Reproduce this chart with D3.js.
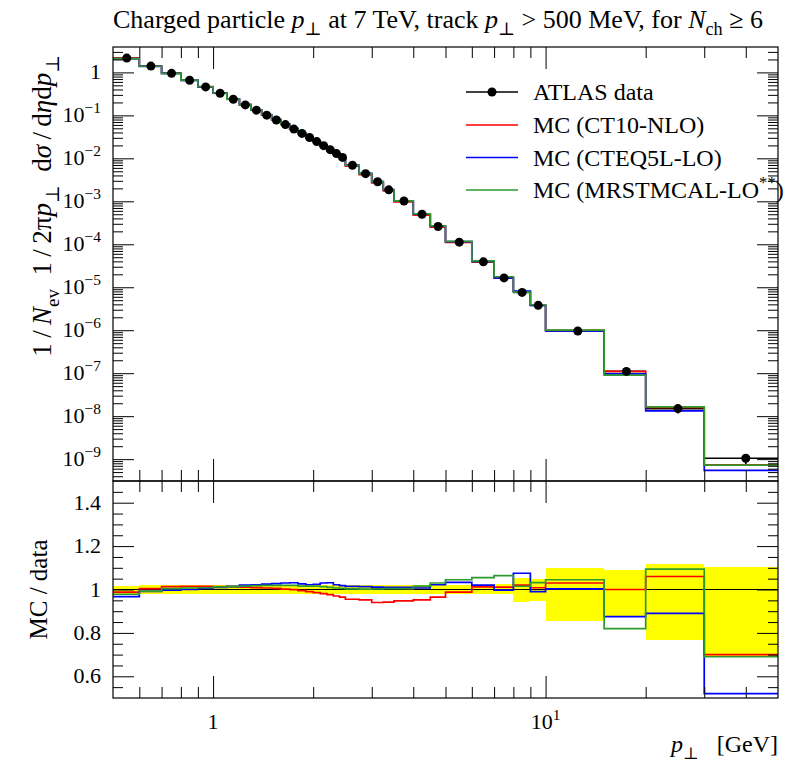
<!DOCTYPE html>
<html>
<head>
<meta charset="utf-8">
<script src="https://cdn.jsdelivr.net/npm/d3@7"></script>
<style>
  body { margin: 0; background: #fff; }
  text { font-family: "Liberation Serif", "DejaVu Serif", serif; fill: #000; white-space: pre; }
</style>
</head>
<body>
<svg id="chart" width="794" height="766"></svg>
<script>
// pT bin edges [GeV]
var edges = [0.5, 0.6, 0.7, 0.8, 0.9, 1.0, 1.1, 1.2, 1.3, 1.4, 1.5, 1.6, 1.7, 1.8, 1.9, 2.0,
  2.1, 2.2, 2.3, 2.4, 2.5, 2.75, 3.0, 3.25, 3.5, 4.0, 4.5, 5.0, 6.0, 7.0, 8.0, 9.0, 10.0,
  15.0, 20.0, 30.0, 50.0];

// ATLAS data, 1/Nev 1/2pi pT d2N/deta dpT
var atlasData = [2.15, 1.40, 0.95, 0.655, 0.46, 0.328, 0.237, 0.175, 0.132, 0.101, 0.078,
  0.061, 0.048, 0.038, 0.0305, 0.0245, 0.0197, 0.0159, 0.0129, 0.0105, 0.0069, 0.0044,
  0.00285, 0.00185, 0.00102, 5.0e-4, 2.6e-4, 1.12e-4, 3.9e-5, 1.65e-5, 7.6e-6, 3.8e-6,
  9.6e-7, 1.1e-7, 1.5e-8, 1.05e-9];

// relative uncertainties (up / down)
var errUp = [0.018, 0.02, 0.02, 0.02, 0.02, 0.02, 0.02, 0.02, 0.02, 0.02, 0.02, 0.02, 0.02,
  0.02, 0.02, 0.02, 0.02, 0.02, 0.02, 0.02, 0.02, 0.02, 0.02, 0.02, 0.02, 0.02, 0.02, 0.02,
  0.02, 0.025, 0.054, 0.049, 0.098, 0.092, 0.118, 0.104];
var errDn = [0.022, 0.02, 0.02, 0.02, 0.02, 0.02, 0.02, 0.02, 0.02, 0.02, 0.02, 0.02, 0.02,
  0.02, 0.02, 0.02, 0.02, 0.02, 0.02, 0.02, 0.02, 0.02, 0.02, 0.02, 0.02, 0.02, 0.02, 0.02,
  0.02, 0.023, 0.058, 0.054, 0.143, 0.126, 0.231, 0.305];

// MC / data
var ratioCT10 = [0.988, 1.004, 1.013, 1.014, 1.014, 1.013, 1.012, 1.011, 1.009, 1.007, 1.005,
  1.002, 0.999, 0.995, 0.990, 0.986, 0.981, 0.976, 0.970, 0.965, 0.955, 0.952, 0.940, 0.942,
  0.948, 0.952, 0.965, 0.988, 1.012, 1.011, 1.020, 1.008, 1.030, 1.000, 1.060, 0.700];
var ratioCTEQ5L = [0.967, 0.991, 0.997, 1.000, 1.005, 1.010, 1.014, 1.020, 1.022, 1.025, 1.027,
  1.030, 1.031, 1.026, 1.022, 1.024, 1.030, 1.031, 1.022, 1.018, 1.014, 1.013, 1.011, 1.010,
  1.010, 1.007, 1.022, 1.033, 1.020, 0.997, 1.075, 0.990, 1.003, 0.875, 0.890, 0.520];
var ratioMRST = [0.978, 0.992, 1.004, 1.007, 1.008, 1.012, 1.013, 1.016, 1.018, 1.019, 1.019,
  1.019, 1.019, 1.016, 1.015, 1.015, 1.013, 1.010, 1.007, 1.005, 1.003, 1.002, 1.003, 1.004,
  1.004, 1.016, 1.030, 1.045, 1.055, 1.064, 1.015, 1.032, 1.045, 0.820, 1.094, 0.690];

var mcNames = ["MC (CT10-NLO)", "MC (CTEQ5L-LO)", "MC (MRSTMCAL-LO"];
var mcColors = ["#ff0000", "#0000ff", "#2e9a2e"];
var mcRatios = [ratioCT10, ratioCTEQ5L, ratioMRST];

var yMajor = [1, 1e-1, 1e-2, 1e-3, 1e-4, 1e-5, 1e-6, 1e-7, 1e-8, 1e-9];
var ratioMajor = [0.6, 0.8, 1.0, 1.2, 1.4];
var xMajor = [1, 10];
var xMinor = [0.6, 0.7, 0.8, 0.9, 2, 3, 4, 5, 6, 7, 8, 9, 20, 30, 40];

// frame
var L = 113, R = 778, T = 47, M = 481, B = 698;

var svg = d3.select("#chart");

var x = d3.scaleLog().domain([0.5, 50]).range([L, R]);
var y = d3.scaleLog().domain([3.1e-10, 3.9]).range([M, T]);
var yr = d3.scaleLinear().domain([0.5, 1.5]).range([B, M]);

// little helper for text with italic / sub / sup parts
function rich(sel, parts, fs) {
  var shift = 0;
  parts.forEach(function(p) {
    var s = p[1] || "";
    var target = s.indexOf("sub") >= 0 ? fs * 0.28 : (s.indexOf("sup") >= 0 ? -fs * 0.42 : 0);
    var t = sel.append("tspan").text(p[0]).attr("dy", target - shift);
    shift = target;
    if (s.charAt(0) == "i") t.style("font-style", "italic");
    if (target != 0) t.attr("font-size", fs * 0.7);
  });
}

// clip paths
var defs = svg.append("defs");
defs.append("clipPath").attr("id", "clipMain").append("rect")
  .attr("x", L).attr("y", T).attr("width", R - L).attr("height", M - T);
defs.append("clipPath").attr("id", "clipRatio").append("rect")
  .attr("x", L).attr("y", M).attr("width", R - L).attr("height", B - M);

var bins = atlasData.map(function(v, i) {
  return { lo: edges[i], hi: edges[i + 1], mid: (edges[i] + edges[i + 1]) / 2, v: v, up: errUp[i], dn: errDn[i] };
});

// ---- ratio band ----
var gRatio = svg.append("g").attr("clip-path", "url(#clipRatio)");
gRatio.selectAll("rect.band").data(bins).enter().append("rect")
  .attr("class", "band")
  .attr("x", function(d) { return x(d.lo); })
  .attr("width", function(d) { return x(d.hi) - x(d.lo); })
  .attr("y", function(d) { return yr(1 + d.up); })
  .attr("height", function(d) { return yr(1 - d.dn) - yr(1 + d.up); })
  .attr("fill", "#ffff00")
  .attr("shape-rendering", "crispEdges");

gRatio.append("line")
  .attr("x1", L).attr("x2", R).attr("y1", yr(1)).attr("y2", yr(1))
  .attr("stroke", "#000").attr("stroke-width", 1);

// step path points
function steps(vals) {
  var pts = [];
  vals.forEach(function(v, i) {
    pts.push([edges[i], v]);
    pts.push([edges[i + 1], v]);
  });
  return pts;
}

var lineMain = d3.line().x(function(d) { return x(d[0]); }).y(function(d) { return y(d[1]); });
var lineRatio = d3.line().x(function(d) { return x(d[0]); }).y(function(d) { return yr(d[1]); });

mcRatios.forEach(function(r, k) {
  gRatio.append("path")
    .attr("d", lineRatio(steps(r)))
    .attr("fill", "none").attr("stroke", mcColors[k]).attr("stroke-width", 1.7);
});

// ---- main panel ----
var gMain = svg.append("g").attr("clip-path", "url(#clipMain)");

// data error bars
gMain.selectAll("line.xerr").data(bins).enter().append("line")
  .attr("x1", function(d) { return x(d.lo); })
  .attr("x2", function(d) { return x(d.hi); })
  .attr("y1", function(d) { return y(d.v); })
  .attr("y2", function(d) { return y(d.v); })
  .attr("stroke", "#000").attr("stroke-width", 1.7);
gMain.selectAll("line.yerr").data(bins).enter().append("line")
  .attr("x1", function(d) { return x(d.mid); })
  .attr("x2", function(d) { return x(d.mid); })
  .attr("y1", function(d) { return y(d.v * (1 + d.up)); })
  .attr("y2", function(d) { return y(d.v * (1 - d.dn)); })
  .attr("stroke", "#000").attr("stroke-width", 1.7);

mcRatios.forEach(function(r, k) {
  var vals = r.map(function(q, i) { return q * atlasData[i]; });
  gMain.append("path")
    .attr("d", lineMain(steps(vals)))
    .attr("fill", "none").attr("stroke", mcColors[k]).attr("stroke-width", 1.7);
});

gMain.selectAll("circle.pt").data(bins).enter().append("circle")
  .attr("cx", function(d) { return x(d.mid); })
  .attr("cy", function(d) { return y(d.v); })
  .attr("r", 4.5)
  .attr("fill", "#000");

// ---- axes ----
function tickAxis(axisFn, scale, values, size, tx, ty) {
  var g = svg.append("g").attr("transform", "translate(" + tx + "," + ty + ")")
    .call(axisFn(scale).tickValues(values).tickSizeInner(-size).tickSizeOuter(0)
      .tickFormat(function() { return ""; }));
  g.select(".domain").remove();
  g.selectAll("line").attr("stroke", "#000").attr("stroke-width", 1);
  return g;
}

var yMinor = [];
for (var n = -10; n <= 0; n++) {
  for (var k = 2; k <= 9; k++) {
    var v = k * Math.pow(10, n);
    if (v > 3.1e-10 && v < 3.9) yMinor.push(v);
  }
}
var ratioMinor = d3.range(0.55, 1.5, 0.05).filter(function(v) {
  return Math.abs(v * 5 - Math.round(v * 5)) > 0.01;
});

// main y
tickAxis(d3.axisLeft, y, yMajor, 21, L, 0);
tickAxis(d3.axisLeft, y, yMinor, 10, L, 0);
tickAxis(d3.axisRight, y, yMajor, 21, R, 0);
tickAxis(d3.axisRight, y, yMinor, 10, R, 0);
// ratio y
tickAxis(d3.axisLeft, yr, ratioMajor, 21, L, 0);
tickAxis(d3.axisLeft, yr, ratioMinor, 10, L, 0);
tickAxis(d3.axisRight, yr, ratioMajor, 21, R, 0);
tickAxis(d3.axisRight, yr, ratioMinor, 10, R, 0);
// x ticks on all four horizontal edges
[[d3.axisTop, T], [d3.axisBottom, M], [d3.axisTop, M], [d3.axisBottom, B]].forEach(function(a) {
  tickAxis(a[0], x, xMajor, 22, 0, a[1]);
  tickAxis(a[0], x, xMinor, 11, 0, a[1]);
});

// frames
[[T, M], [M, B]].forEach(function(p) {
  svg.append("rect").attr("x", L).attr("y", p[0]).attr("width", R - L).attr("height", p[1] - p[0])
    .attr("fill", "none").attr("stroke", "#000").attr("stroke-width", 1.2);
});

// tick labels
var tickFs = 22;
svg.append("g").selectAll("text").data(yMajor).enter().append("text")
  .attr("x", L - 12).attr("y", function(d) { return y(d) + 7; })
  .attr("text-anchor", "end").attr("font-size", tickFs)
  .each(function(d) {
    var e = Math.round(Math.log10(d));
    if (e == 0) d3.select(this).text("1");
    else rich(d3.select(this), [["10"], ["\u2212" + (-e), "sup"]], tickFs);
  });

svg.append("g").selectAll("text").data(ratioMajor).enter().append("text")
  .attr("x", L - 12).attr("y", function(d) { return yr(d) + 7; })
  .attr("text-anchor", "end").attr("font-size", tickFs)
  .text(function(d) { return d == 1 ? "1" : d3.format(".1f")(d); });

svg.append("g").selectAll("text").data(xMajor).enter().append("text")
  .attr("x", function(d) { return x(d); }).attr("y", B + 31)
  .attr("text-anchor", "middle").attr("font-size", tickFs)
  .each(function(d) {
    if (d == 1) d3.select(this).text("1");
    else rich(d3.select(this), [["10"], ["1", "sup"]], tickFs);
  });

// title
var title = svg.append("text").attr("x", L).attr("y", 28).attr("font-size", 26);
rich(title, [["Charged particle "], ["p", "i"], ["\u22a5", "sub"], [" at 7 TeV, track "], ["p", "i"],
  ["\u22a5", "sub"], [" > 500 MeV, for "], ["N", "i"], ["ch", "sub"], [" \u2265 6"]], 26);

// axis labels
var xl = svg.append("text").attr("x", R).attr("y", 752).attr("text-anchor", "end").attr("font-size", 24);
rich(xl, [["p", "i"], ["\u22a5", "sub"], ["   [GeV]"]], 24);

var yl = svg.append("text").attr("transform", "translate(51," + (T + 8) + ") rotate(-90)")
  .attr("text-anchor", "end").attr("font-size", 27);
rich(yl, [["1\u2009/\u2009"], ["N", "i"], ["ev", "sub"], ["  1\u2009/\u20092\u03c0"], ["p", "i"], ["\u22a5", "sub"],
  ["  d"], ["\u03c3", "i"], ["\u2009/\u2009d"], ["\u03b7", "i"], ["d"], ["p", "i"], ["\u22a5", "sub"]], 27);

svg.append("text").attr("transform", "translate(47," + yr(1) + ") rotate(-90)")
  .attr("text-anchor", "middle").attr("font-size", 25).text("MC / data");

// legend
var legY = [92, 125, 157.5, 190];
var lx1 = 466, lx2 = 518, ltx = 533, legFs = 24;
var gl = svg.append("g");
gl.append("line").attr("x1", lx1).attr("x2", lx2).attr("y1", legY[0]).attr("y2", legY[0])
  .attr("stroke", "#000").attr("stroke-width", 1.7);
gl.append("circle").attr("cx", (lx1 + lx2) / 2).attr("cy", legY[0]).attr("r", 4.5).attr("fill", "#000");
gl.append("text").attr("x", ltx).attr("y", legY[0] + 8).attr("font-size", legFs).text("ATLAS data");
mcNames.forEach(function(nm, k) {
  var yy = legY[k + 1];
  gl.append("line").attr("x1", lx1).attr("x2", lx2).attr("y1", yy).attr("y2", yy)
    .attr("stroke", mcColors[k]).attr("stroke-width", 1.7);
  var t = gl.append("text").attr("x", ltx).attr("y", yy + 8).attr("font-size", legFs);
  if (k == 2) rich(t, [[nm], ["**", "sup"], [")"]], legFs);
  else t.text(nm);
});
</script>
</body>
</html>
